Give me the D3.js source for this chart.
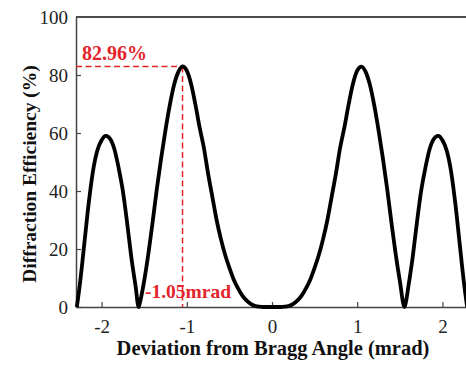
<!DOCTYPE html>
<html>
<head>
<meta charset="utf-8">
<script src="https://cdn.jsdelivr.net/npm/d3@7"></script>
<style>
  body { margin: 0; background: #fff; }
  svg { display: block; font-family: "Liberation Serif", "Times New Roman", serif; }
</style>
</head>
<body>
<svg width="466" height="365"></svg>
<script>
// deviation from Bragg angle (mrad)
const angle = [
  -2.29, -2.25, -2.20, -2.15, -2.10, -2.05, -2.00, -1.95, -1.90, -1.85, -1.80, -1.75, -1.70, -1.65, -1.60, -1.565,
  -1.55, -1.50, -1.45, -1.40, -1.35, -1.30, -1.25, -1.20, -1.15, -1.10, -1.05, -1.00, -0.95, -0.90, -0.85, -0.80,
  -0.75, -0.70, -0.65, -0.60, -0.55, -0.50, -0.45, -0.40, -0.35, -0.30, -0.25, -0.20, -0.15, -0.10, 0.00,
  0.10, 0.15, 0.20, 0.25, 0.30, 0.35, 0.40, 0.45, 0.50, 0.55, 0.60, 0.65, 0.70, 0.75, 0.80, 0.85, 0.90,
  0.95, 1.00, 1.05, 1.10, 1.15, 1.20, 1.25, 1.30, 1.35, 1.40, 1.45, 1.50, 1.555,
  1.57, 1.60, 1.65, 1.70, 1.75, 1.80, 1.85, 1.90, 1.95, 2.00, 2.05, 2.10, 2.15, 2.20, 2.25, 2.29
];
// diffraction efficiency (%)
const efficiency = [
  0, 9, 22.5, 36, 47, 54, 57.5, 59, 58, 54.5, 48, 40, 29, 17, 7, 0,
  1.5, 9, 18.5, 29.5, 41, 51.5, 61, 69.5, 76.5, 81, 82.96, 81.5, 77, 70, 62, 55,
  46, 38, 30, 23.5, 18, 13.5, 9.5, 6.5, 4, 2.3, 1.1, 0.4, 0.1, 0, 0,
  0, 0.1, 0.4, 1.1, 2.3, 4, 6.5, 9.5, 13.5, 18, 23.5, 30, 38, 46, 55, 62, 70,
  77, 81.5, 82.9, 81, 76.5, 69.5, 61, 51.5, 41, 29.5, 18.5, 9, 0,
  1.5, 7, 17, 29, 40, 48, 54.5, 58, 59, 57.5, 54, 47, 36, 22.5, 9, 0
];
const xTicks = [-2, -1, 0, 1, 2];
const yTicks = [0, 20, 40, 60, 80, 100];
const peakAngle = -1.05;
const peakValue = 82.96;

const svg = d3.select('svg');
const mLeft = 76, mTop = 17, mBottom = 307, mRight = 468;
const red = '#e3242b';

const x = d3.scaleLinear().domain([-2.3, 2.3]).range([mLeft, mRight]);
const y = d3.scaleLinear().domain([0, 100]).range([mBottom, mTop]);

// frame: top line
svg.append('line')
  .attr('x1', mLeft).attr('x2', 466).attr('y1', mTop).attr('y2', mTop)
  .attr('stroke', '#111').attr('stroke-width', 1.5);

const xAxis = svg.append('g')
  .attr('transform', 'translate(0,' + mBottom + ')')
  .call(d3.axisBottom(x).tickValues(xTicks).tickSizeInner(-5).tickSizeOuter(0)
    .tickPadding(13).tickFormat(d => String(d)));

const yAxis = svg.append('g')
  .attr('transform', 'translate(' + mLeft + ',0)')
  .call(d3.axisLeft(y).tickValues(yTicks).tickSizeInner(-5).tickSizeOuter(0)
    .tickPadding(8).tickFormat(d => String(d)));

[xAxis, yAxis].forEach(a => {
  a.select('.domain').attr('stroke', '#444').attr('stroke-width', 1.5);
  a.selectAll('.tick line').attr('stroke', '#444').attr('stroke-width', 1.2);
  a.selectAll('.tick text')
    .attr('font-family', '"Liberation Serif", serif')
    .attr('font-size', 19).attr('fill', '#222');
});
yAxis.select('.tick:last-of-type line').remove();

// red guide lines
svg.append('line')
  .attr('x1', mLeft).attr('x2', x(peakAngle))
  .attr('y1', y(peakValue)).attr('y2', y(peakValue))
  .attr('stroke', red).attr('stroke-width', 1.5).attr('stroke-dasharray', '6,3.5');
svg.append('line')
  .attr('x1', x(peakAngle)).attr('x2', x(peakAngle))
  .attr('y1', y(peakValue)).attr('y2', mBottom)
  .attr('stroke', red).attr('stroke-width', 1.5).attr('stroke-dasharray', '6,3.5');

// curve
const pts = angle.map((a, i) => [a, efficiency[i]]);
svg.append('path')
  .datum(pts)
  .attr('fill', 'none')
  .attr('stroke', '#000')
  .attr('stroke-width', 3.8)
  .attr('stroke-linejoin', 'round')
  .attr('d', d3.line().x(d => x(d[0])).y(d => y(d[1])).curve(d3.curveMonotoneX));

// annotations
svg.append('text')
  .attr('x', 82).attr('y', 60)
  .attr('font-size', 20).attr('font-weight', 'bold').attr('fill', red)
  .text(peakValue.toFixed(2) + '%');
svg.append('text')
  .attr('x', 145).attr('y', 298)
  .attr('font-size', 19.5).attr('font-weight', 'bold').attr('fill', red)
  .text(peakAngle.toFixed(2) + 'mrad');

// axis titles
svg.append('text')
  .attr('x', 273).attr('y', 355)
  .attr('text-anchor', 'middle')
  .attr('font-size', 20.5).attr('font-weight', 'bold').attr('fill', '#111')
  .text('Deviation from Bragg Angle (mrad)');
svg.append('text')
  .attr('transform', 'translate(36,174) rotate(-90)')
  .attr('text-anchor', 'middle')
  .attr('font-size', 19.5).attr('font-weight', 'bold').attr('fill', '#111')
  .text('Diffraction Efficiency (%)');
</script>
</body>
</html>
